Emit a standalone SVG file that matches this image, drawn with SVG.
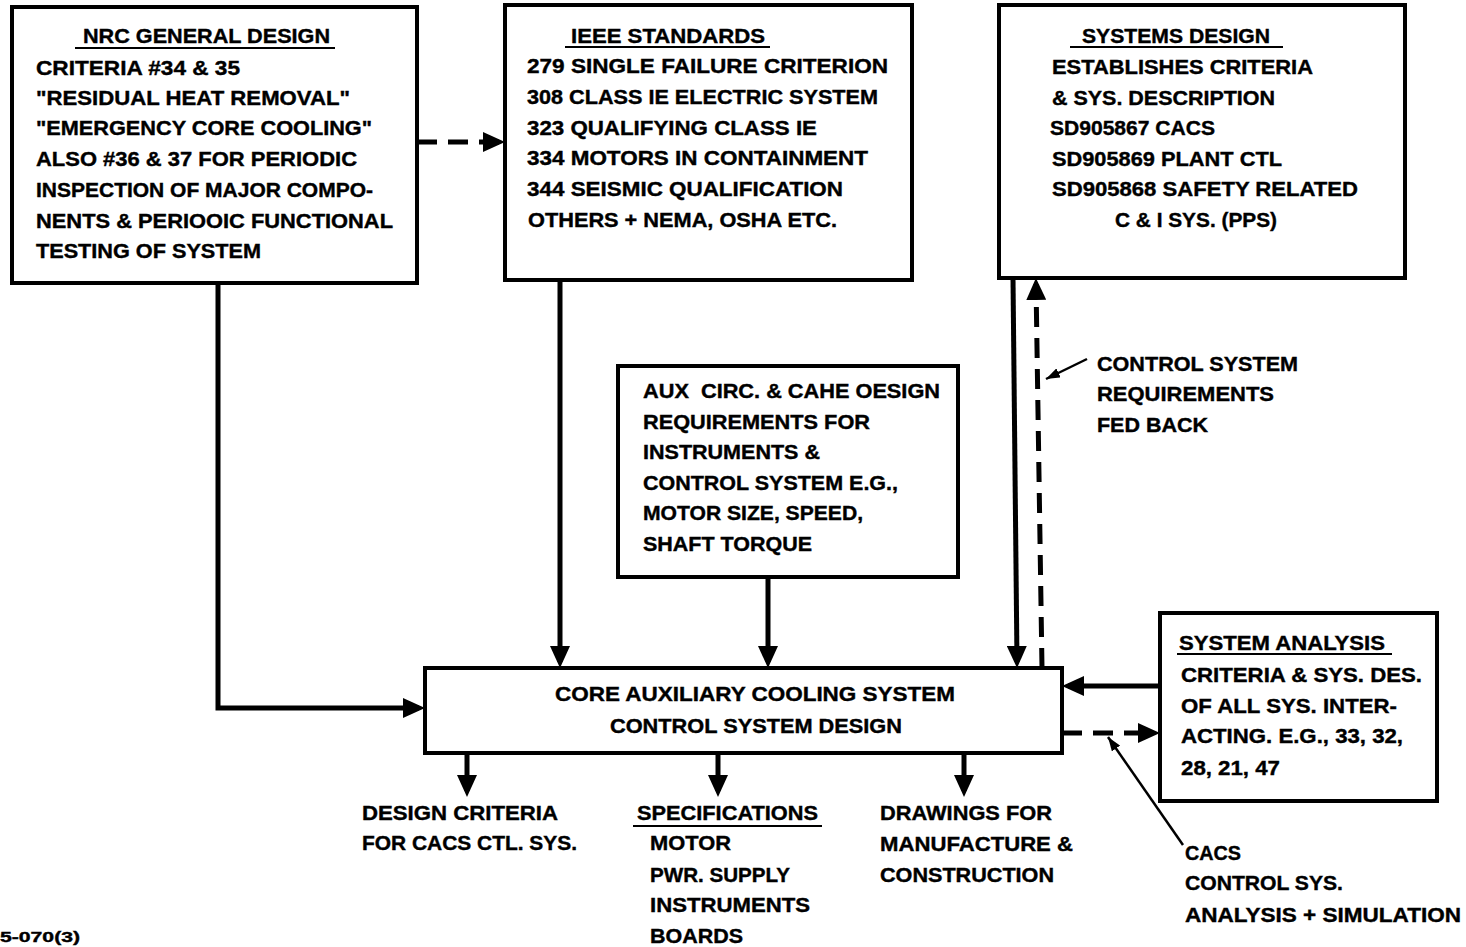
<svg xmlns="http://www.w3.org/2000/svg" width="1466" height="947" viewBox="0 0 1466 947">
<style>
text{font-family:"Liberation Sans Narrow","Liberation Sans",Arial,sans-serif;font-weight:bold;font-size:21px;fill:#000;stroke:#000;stroke-width:0.4}
.box{fill:#fff;stroke:#000;stroke-width:4}
.ul{stroke:#000;stroke-width:2}
.conn{fill:none;stroke:#000;stroke-width:5}
.dash{fill:none;stroke:#000;stroke-width:5;stroke-dasharray:20 11}
.thin{fill:none;stroke:#000;stroke-width:2.5}
</style>
<defs>
<marker id="ah" markerUnits="userSpaceOnUse" markerWidth="22" markerHeight="20" refX="16" refY="10" orient="auto">
<path d="M0,0 L22,10 L0,20 z" fill="#000"/>
</marker>
<marker id="sh" markerUnits="userSpaceOnUse" markerWidth="14" markerHeight="10" refX="14" refY="5" orient="auto">
<path d="M0,0 L14,5 L0,10 z" fill="#000"/>
</marker>
</defs>
<rect width="1466" height="947" fill="#fff"/>

<g id="connectors">
<path class="conn" d="M218,283 V708 H419" marker-end="url(#ah)"/>
<path class="dash" d="M417,142 H499" marker-end="url(#ah)"/>
<path class="conn" d="M560,280 V662" marker-end="url(#ah)"/>
<path class="conn" d="M768,577 V662" marker-end="url(#ah)"/>
<path class="conn" d="M1013,278 L1017,662" marker-end="url(#ah)"/>
<path class="dash" d="M1042,668 L1036,284" marker-end="url(#ah)"/>
<path class="thin" d="M1087,359 L1046,379" marker-end="url(#sh)"/>
<path class="conn" d="M1160,686 H1068" marker-end="url(#ah)"/>
<path class="dash" d="M1062,733 H1154" marker-end="url(#ah)"/>
<path class="thin" d="M1183,845 L1108,737" marker-end="url(#sh)"/>
<path class="conn" d="M467,753 V791" marker-end="url(#ah)"/>
<path class="conn" d="M718,753 V791" marker-end="url(#ah)"/>
<path class="conn" d="M964,753 V791" marker-end="url(#ah)"/>
</g>

<g id="nrc">
<rect class="box" x="12" y="7" width="405" height="276"/>
<text x="83" y="43" textLength="247" lengthAdjust="spacingAndGlyphs">NRC GENERAL DESIGN</text>
<line class="ul" x1="75" y1="48" x2="335" y2="48"/>
<text x="36" y="75" textLength="204" lengthAdjust="spacingAndGlyphs">CRITERIA #34 &amp; 35</text>
<text x="36" y="105" textLength="314" lengthAdjust="spacingAndGlyphs">"RESIDUAL HEAT REMOVAL"</text>
<text x="36" y="135" textLength="336" lengthAdjust="spacingAndGlyphs">"EMERGENCY CORE COOLING"</text>
<text x="36" y="166" textLength="321" lengthAdjust="spacingAndGlyphs">ALSO #36 &amp; 37 FOR PERIODIC</text>
<text x="36" y="197" textLength="337" lengthAdjust="spacingAndGlyphs">INSPECTION OF MAJOR COMPO-</text>
<text x="36" y="228" textLength="357" lengthAdjust="spacingAndGlyphs">NENTS &amp; PERIOOIC FUNCTIONAL</text>
<text x="36" y="258" textLength="225" lengthAdjust="spacingAndGlyphs">TESTING OF SYSTEM</text>
</g>

<g id="ieee">
<rect class="box" x="505" y="5" width="407" height="275"/>
<text x="571" y="43" textLength="194" lengthAdjust="spacingAndGlyphs">IEEE STANDARDS</text>
<line class="ul" x1="565" y1="47" x2="770" y2="47"/>
<text x="527" y="73" textLength="361" lengthAdjust="spacingAndGlyphs">279 SINGLE FAILURE CRITERION</text>
<text x="527" y="104" textLength="351" lengthAdjust="spacingAndGlyphs">308 CLASS IE ELECTRIC SYSTEM</text>
<text x="527" y="135" textLength="290" lengthAdjust="spacingAndGlyphs">323 QUALIFYING CLASS IE</text>
<text x="527" y="165" textLength="341" lengthAdjust="spacingAndGlyphs">334 MOTORS IN CONTAINMENT</text>
<text x="527" y="196" textLength="316" lengthAdjust="spacingAndGlyphs">344 SEISMIC QUALIFICATION</text>
<text x="528" y="227" textLength="309" lengthAdjust="spacingAndGlyphs">OTHERS + NEMA, OSHA ETC.</text>
</g>

<g id="systems-design">
<rect class="box" x="999" y="5" width="406" height="273"/>
<text x="1082" y="43" textLength="188" lengthAdjust="spacingAndGlyphs">SYSTEMS DESIGN</text>
<line class="ul" x1="1070" y1="47" x2="1283" y2="47"/>
<text x="1052" y="74" textLength="261" lengthAdjust="spacingAndGlyphs">ESTABLISHES CRITERIA</text>
<text x="1052" y="105" textLength="223" lengthAdjust="spacingAndGlyphs">&amp; SYS. DESCRIPTION</text>
<text x="1050" y="135" textLength="165" lengthAdjust="spacingAndGlyphs">SD905867 CACS</text>
<text x="1052" y="166" textLength="230" lengthAdjust="spacingAndGlyphs">SD905869 PLANT CTL</text>
<text x="1052" y="196" textLength="306" lengthAdjust="spacingAndGlyphs">SD905868 SAFETY RELATED</text>
<text x="1115" y="227" textLength="162" lengthAdjust="spacingAndGlyphs">C &amp; I SYS. (PPS)</text>
</g>

<g id="aux">
<rect class="box" x="618" y="366" width="340" height="211"/>
<text x="643" y="398" textLength="297" lengthAdjust="spacingAndGlyphs" xml:space="preserve">AUX  CIRC. &amp; CAHE OESIGN</text>
<text x="643" y="429" textLength="227" lengthAdjust="spacingAndGlyphs">REQUIREMENTS FOR</text>
<text x="643" y="459" textLength="177" lengthAdjust="spacingAndGlyphs">INSTRUMENTS &amp;</text>
<text x="643" y="490" textLength="255" lengthAdjust="spacingAndGlyphs">CONTROL SYSTEM E.G.,</text>
<text x="643" y="520" textLength="220" lengthAdjust="spacingAndGlyphs">MOTOR SIZE, SPEED,</text>
<text x="643" y="551" textLength="169" lengthAdjust="spacingAndGlyphs">SHAFT TORQUE</text>
</g>

<g id="core">
<rect class="box" x="425" y="668" width="637" height="85"/>
<text x="555" y="701" textLength="400" lengthAdjust="spacingAndGlyphs">CORE AUXILIARY COOLING SYSTEM</text>
<text x="610" y="733" textLength="292" lengthAdjust="spacingAndGlyphs">CONTROL SYSTEM DESIGN</text>
</g>

<g id="system-analysis">
<rect class="box" x="1160" y="613" width="277" height="188"/>
<text x="1179" y="650" textLength="206" lengthAdjust="spacingAndGlyphs">SYSTEM ANALYSIS</text>
<line class="ul" x1="1177" y1="654" x2="1392" y2="654"/>
<text x="1181" y="682" textLength="241" lengthAdjust="spacingAndGlyphs">CRITERIA &amp; SYS. DES.</text>
<text x="1181" y="713" textLength="216" lengthAdjust="spacingAndGlyphs">OF ALL SYS. INTER-</text>
<text x="1181" y="743" textLength="222" lengthAdjust="spacingAndGlyphs">ACTING. E.G., 33, 32,</text>
<text x="1181" y="775" textLength="99" lengthAdjust="spacingAndGlyphs">28, 21, 47</text>
</g>

<g id="feedback-label">
<text x="1097" y="371" textLength="201" lengthAdjust="spacingAndGlyphs">CONTROL SYSTEM</text>
<text x="1097" y="401" textLength="177" lengthAdjust="spacingAndGlyphs">REQUIREMENTS</text>
<text x="1097" y="432" textLength="111" lengthAdjust="spacingAndGlyphs">FED BACK</text>
</g>

<g id="cacs-label">
<text x="1185" y="860" textLength="56" lengthAdjust="spacingAndGlyphs">CACS</text>
<text x="1185" y="890" textLength="158" lengthAdjust="spacingAndGlyphs">CONTROL SYS.</text>
<text x="1185" y="922" textLength="276" lengthAdjust="spacingAndGlyphs">ANALYSIS + SIMULATION</text>
</g>

<g id="design-criteria">
<text x="362" y="820" textLength="196" lengthAdjust="spacingAndGlyphs">DESIGN CRITERIA</text>
<text x="362" y="850" textLength="215" lengthAdjust="spacingAndGlyphs">FOR CACS CTL. SYS.</text>
</g>

<g id="specifications">
<text x="637" y="820" textLength="181" lengthAdjust="spacingAndGlyphs">SPECIFICATIONS</text>
<line class="ul" x1="633" y1="826" x2="822" y2="826"/>
<text x="650" y="850" textLength="81" lengthAdjust="spacingAndGlyphs">MOTOR</text>
<text x="650" y="882" textLength="140" lengthAdjust="spacingAndGlyphs">PWR. SUPPLY</text>
<text x="650" y="912" textLength="160" lengthAdjust="spacingAndGlyphs">INSTRUMENTS</text>
<text x="650" y="943" textLength="93" lengthAdjust="spacingAndGlyphs">BOARDS</text>
</g>

<g id="drawings">
<text x="880" y="820" textLength="172" lengthAdjust="spacingAndGlyphs">DRAWINGS FOR</text>
<text x="880" y="851" textLength="193" lengthAdjust="spacingAndGlyphs">MANUFACTURE &amp;</text>
<text x="880" y="882" textLength="174" lengthAdjust="spacingAndGlyphs">CONSTRUCTION</text>
</g>

<g id="figure-number">
<text x="0" y="942" textLength="80" lengthAdjust="spacingAndGlyphs" style="font-size:15px">5-070(3)</text>
</g>
</svg>
